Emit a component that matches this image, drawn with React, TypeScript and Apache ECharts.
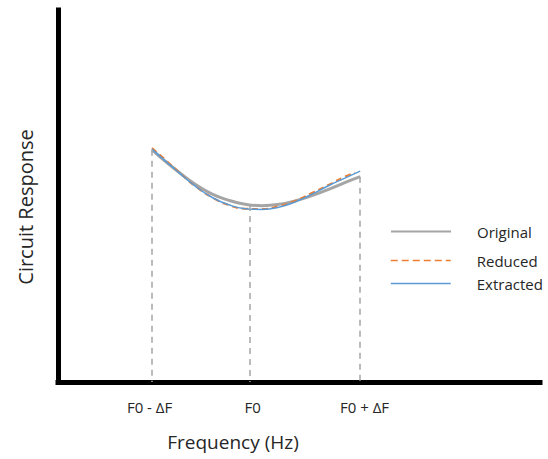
import React, { useEffect, useRef } from "react";
import * as echarts from "echarts";

// Frequency positions (arbitrary units on a 0–10 axis)
const freqs = [1.95, 2.22, 2.49, 2.84, 3.2, 3.53, 3.88, 4.23, 4.56, 4.92, 5.27, 5.6, 5.95, 6.27];
const originalValues = [62.4, 59.4, 56.6, 53.2, 50.5, 48.9, 47.8, 47.4, 47.7, 48.7, 50.1, 51.7, 53.6, 55.2];
const extractedValues = [62.6, 59.5, 56.5, 52.7, 49.6, 47.7, 46.6, 46.4, 46.9, 48.4, 50.5, 52.7, 54.8, 56.7];

const freqReduced = [1.95, 2.22, 2.49, 2.84, 3.2, 3.53, 3.88, 4.23, 4.56, 4.92, 5.27, 5.6, 5.95, 6.16];
const reducedValues = [62.9, 59.8, 56.6, 52.7, 49.6, 47.6, 46.6, 46.5, 47.2, 48.7, 50.8, 52.9, 55.2, 56.3];

// Reference frequencies (dashed guides) and tick labels
const guideFreqs = [1.95, 3.98, 6.27];
const guideValues = [62.4, 47.6, 55.2];
const tickLabelPositions = [1.9, 4.04, 6.36];
const tickLabels = ["F0 - ΔF", "F0", "F0 + ΔF"];

const seriesNames = ["Original", "Reduced", "Extracted"];

const FONT = "'Open Sans', 'Noto Sans', sans-serif";
const TEXT = "#262626";

export default function App() {
  const ref = useRef<HTMLDivElement>(null);
  useEffect(() => {
    if (!ref.current) return;
    const chart = echarts.init(ref.current, null, { renderer: "svg" });
    const zip = (xs: number[], ys: number[]) => xs.map((x, i) => [x, ys[i]]);
    const legendBase = {
      left: 390,
      padding: 0,
      itemWidth: 60,
      itemHeight: 14,
      itemStyle: { opacity: 0 },
      textStyle: { fontFamily: FONT, fontSize: 15, color: TEXT, padding: [0, 0, 0, 21] },
    };
    chart.setOption({
      animation: false,
      grid: { left: 58, right: 8, top: 10, bottom: 77 },
      xAxis: {
        type: "value",
        min: 0,
        max: 10,
        axisLine: { show: true, lineStyle: { color: "#000", width: 5, cap: "square" } },
        axisTick: { show: false },
        splitLine: { show: false },
        axisLabel: {
          customValues: tickLabelPositions,
          formatter: (v: number) => {
            const i = tickLabelPositions.indexOf(v);
            return i >= 0 ? tickLabels[i] : "";
          },
          margin: 17,
          fontFamily: FONT,
          fontSize: 15,
          color: TEXT,
        },
      },
      yAxis: {
        type: "value",
        min: 0,
        max: 100,
        axisLine: { show: true, lineStyle: { color: "#000", width: 5, cap: "square" } },
        axisTick: { show: false },
        axisLabel: { show: false },
        splitLine: { show: false },
      },
      legend: [
        { ...legendBase, data: [seriesNames[0]], top: 224, lineStyle: { width: 2 } },
        { ...legendBase, data: [seriesNames[1]], top: 253, lineStyle: { width: 1.5, type: [7, 4] } },
        { ...legendBase, data: [seriesNames[2]], top: 276, lineStyle: { width: 1.5 } },
      ],
      graphic: [
        {
          type: "text",
          x: 233,
          y: 442,
          style: {
            text: "Frequency (Hz)",
            font: `19px ${FONT}`,
            fill: TEXT,
            align: "center",
            verticalAlign: "middle",
          },
        },
        {
          type: "text",
          x: 25,
          y: 207,
          rotation: Math.PI / 2,
          style: {
            text: "Circuit Response",
            font: `20px ${FONT}`,
            fill: TEXT,
            align: "center",
            verticalAlign: "middle",
          },
        },
      ],
      series: [
        {
          name: seriesNames[0],
          type: "line",
          smooth: true,
          symbol: "none",
          data: zip(freqs, originalValues),
          lineStyle: { color: "#A5A5A5", width: 3 },
          itemStyle: { color: "#A5A5A5" },
          markLine: {
            silent: true,
            symbol: "none",
            label: { show: false },
            lineStyle: { color: "#A5A5A5", type: [6, 5], width: 1.5 },
            data: guideFreqs.map((f, i) => [{ coord: [f, guideValues[i]] }, { coord: [f, 0] }]),
          },
          z: 2,
        },
        {
          name: seriesNames[1],
          type: "line",
          smooth: true,
          symbol: "none",
          data: zip(freqReduced, reducedValues),
          lineStyle: { color: "#ED7D31", width: 2, type: [6, 4] },
          itemStyle: { color: "#ED7D31" },
          z: 3,
        },
        {
          name: seriesNames[2],
          type: "line",
          smooth: true,
          symbol: "none",
          data: zip(freqs, extractedValues),
          lineStyle: { color: "#5B9BD5", width: 1.5 },
          itemStyle: { color: "#5B9BD5" },
          z: 4,
        },
      ],
    });
    return () => chart.dispose();
  }, []);
  return <div ref={ref} style={{ width: 548, height: 459, position: "absolute", left: 0, top: 0 }} />;
}
